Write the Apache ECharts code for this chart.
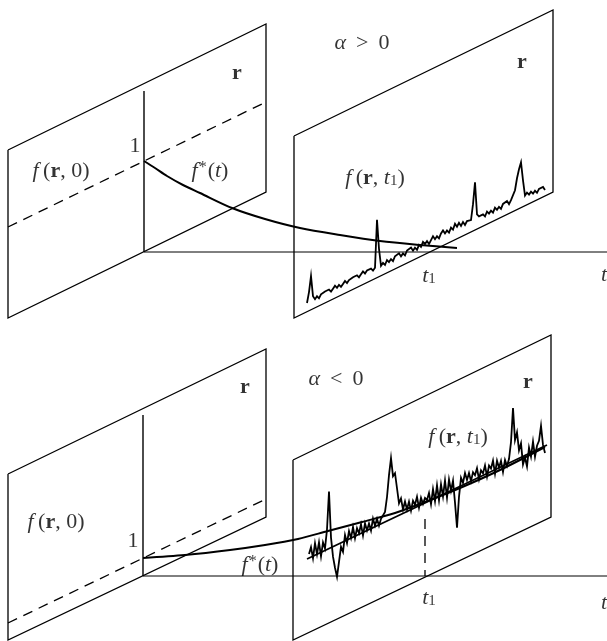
<!DOCTYPE html>
<html>
<head>
<meta charset="utf-8">
<script src="https://cdn.jsdelivr.net/npm/echarts@6/dist/echarts.min.js"></script>
<style>html,body{margin:0;padding:0;background:#fff;}#c{width:607px;height:641px;}</style>
</head>
<body>
<div id="c"></div>
<script>
// ---- diagram geometry (diagram units, x right, y down) ----
// top panel (alpha > 0)
const topPlane0 = [[8,150],[266,24],[266,192],[8,318],[8,150]];
const topPlane1 = [[294,136],[553,10],[553,192],[294,318],[294,136]];
const topRAxis = [[144,91],[144,252]];
const topTAxis = [[144,252],[607,252]];
const topDashed = [[8,227],[266,102]];
const topCurve = [[144,161],[155,168],[167,176],[183,185],[200,193],[232,208],[265,219],[300,228],[340,235],[380,241],[420,245],[457,248]];
const topSignalBase = [[307,303],[545,190]];
const topSignalStart = 307, topSignalStep = 2;
const topSignal = [0,10,25,4,0,2,-1,2,0,3,1,3,0,2,4,1,3,0,2,4,1,3,1,4,2,4,1,3,5,2,4,2,4,1,3,50,20,2,4,1,
  5,2,4,1,5,3,6,2,4,1,5,3,6,2,4,1,5,2,6,3,5,1,4,7,3,5,2,6,8,4,6,3,7,4,9,5,8,4,7,3,6,4,5,20,41,8,5,3,5,2,
  6,3,5,2,6,3,5,2,6,4,7,3,6,4,14,25,33,39,20,4,6,3,5,2,4,1,4,2,4,0];

// bottom panel (alpha < 0)
const botPlane0 = [[8,474],[266,349],[266,517],[8,640],[8,474]];
const botPlane1 = [[293,460],[551,335],[551,517],[293,640],[293,460]];
const botRAxis = [[143,415],[143,576]];
const botTAxis = [[143,576],[607,576]];
const botDashed = [[8,623],[266,499]];
const botT1Dashed = [[425,519],[425,576]];
const botCurve = [[143,558],[185,555],[230,550],[265,545],[298,539],[328,531],[362,522],[395,513],[425,502],[460,488],[500,470],[545,447]];
const botTrend = [[307,559],[547,445]];
const botSignalStart = 309, botSignalStep = 2;
const botSignal = [4,10,-2,12,0,11,-4,9,2,20,57,10,-10,-22,-32,-18,-4,-10,6,-3,8,0,10,-2,7,1,9,-3,8,0,
  6,-2,9,1,7,-1,5,3,10,24,45,61,42,44,28,12,16,4,11,2,9,-1,8,3,10,-2,7,0,5,2,
  8,-4,10,-3,12,-4,11,-2,13,-5,12,0,9,-14,-40,-10,8,2,11,3,9,0,8,4,10,-2,6,2,9,-3,
  7,3,10,-4,8,0,6,-6,5,-2,4,20,53,20,27,8,14,-8,-2,-12,6,-4,10,-6,4,8,22,2,-7];

// labels: [text, x, y]
const labels = [
  ['{b|r}', 237, 73],
  ['{n|1}', 135, 146],
  ['{i|f}{n|\u2009(}{b|r}{n|, 0)}', 61, 171],
  ['{i|f}{sup|*}{n|(}{i|t}{n|)}', 210, 171],
  ['{i|α}{n| \u2009>\u2009 0}', 362, 43],
  ['{b|r}', 522, 62],
  ['{i|f}{n|\u2009(}{b|r}{n|, }{i|t}{sub|1}{n|)}', 375, 178],
  ['{i|t}{sub|1}', 429, 276],
  ['{i|t}', 604, 275],
  ['{b|r}', 245, 387],
  ['{i|f}{n|\u2009(}{b|r}{n|, 0)}', 56, 522],
  ['{n|1}', 133, 541],
  ['{i|f}{sup|*}{n|(}{i|t}{n|)}', 260, 565],
  ['{i|α}{n| \u2009<\u2009 0}', 336, 379],
  ['{b|r}', 528, 382],
  ['{i|f}{n|\u2009(}{b|r}{n|, }{i|t}{sub|1}{n|)}', 458, 437],
  ['{i|t}{sub|1}', 429, 598],
  ['{i|t}', 604, 603]
];

function buildSignal(start, step, base, offsets) {
  const s = (base[1][1] - base[0][1]) / (base[1][0] - base[0][0]);
  return offsets.map((o, i) => {
    const x = start + step * i;
    return [x, base[0][1] + (x - base[0][0]) * s - o];
  });
}

function poly(data, width, dashed, smooth) {
  return {
    type: 'line', data: data, symbol: 'none', silent: true, animation: false,
    smooth: smooth || false,
    lineStyle: { color: '#000', width: width, type: dashed ? [10, 7] : 'solid', cap: 'butt', join: 'miter' },
    z: 2
  };
}

const FONT = '"Liberation Serif", "Times New Roman", serif';
const rich = {
  n: { fontFamily: FONT, fontSize: 22, color: '#000' },
  i: { fontFamily: FONT, fontSize: 22, fontStyle: 'italic', color: '#000' },
  b: { fontFamily: FONT, fontSize: 22, fontWeight: 'bold', color: '#000' },
  sup: { fontFamily: FONT, fontSize: 16, color: '#000', verticalAlign: 'top', padding: [0, 1, 6, 1] },
  sub: { fontFamily: FONT, fontSize: 15, color: '#000', verticalAlign: 'bottom', padding: [7, 0, 0, 0] }
};

const series = [
  poly(topPlane0, 1.3), poly(topPlane1, 1.3), poly(topRAxis, 1.4), poly(topTAxis, 1),
  poly(topDashed, 1.3, true), poly(topCurve, 2, false, 0.3),
  poly(buildSignal(topSignalStart, topSignalStep, topSignalBase, topSignal), 1.8),
  poly(botPlane0, 1.3), poly(botPlane1, 1.3), poly(botRAxis, 1.4), poly(botTAxis, 1),
  poly(botDashed, 1.3, true), poly(botT1Dashed, 1.3, true), poly(botCurve, 2, false, 0.3), poly(botTrend, 1.8),
  poly(buildSignal(botSignalStart, botSignalStep, botTrend, botSignal), 1.8)
];

labels.forEach(l => {
  series.push({
    type: 'scatter', data: [[l[1], l[2]]], symbolSize: 1, silent: true, animation: false,
    itemStyle: { color: 'rgba(0,0,0,0)' }, z: 5,
    label: { show: true, position: 'inside', formatter: l[0], rich: rich, align: 'center', verticalAlign: 'middle' }
  });
});

const chart = echarts.init(document.getElementById('c'), null, { renderer: 'canvas' });
chart.setOption({
  backgroundColor: '#fff',
  animation: false,
  grid: { left: 0, right: 0, top: 0, bottom: 0 },
  xAxis: { type: 'value', min: 0, max: 607, show: false },
  yAxis: { type: 'value', min: 0, max: 641, inverse: true, show: false },
  series: series
});
</script>
</body>
</html>
